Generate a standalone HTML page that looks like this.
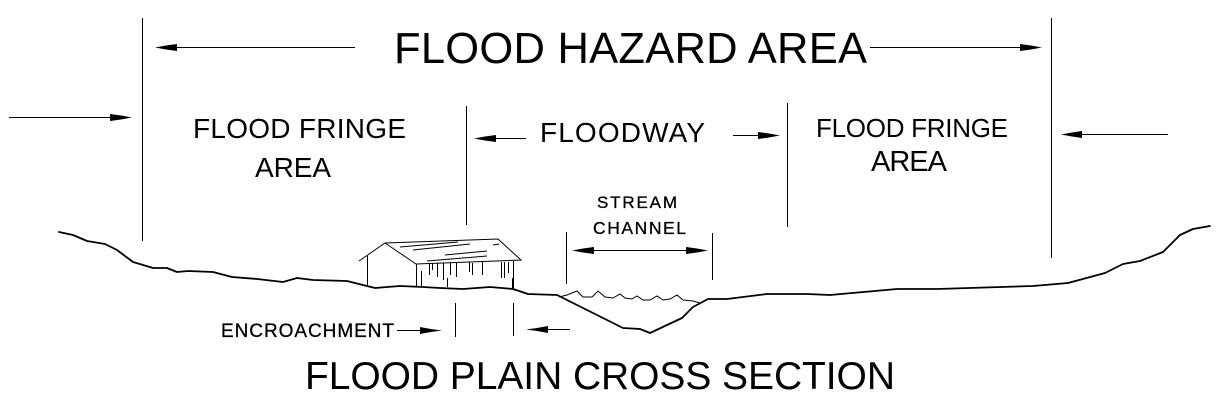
<!DOCTYPE html>
<html>
<head>
<meta charset="utf-8">
<style>
html,body{margin:0;padding:0;background:#fff;width:1220px;height:400px;overflow:hidden}
svg{display:block}
text{font-family:"Liberation Sans",sans-serif;fill:#000;font-weight:400}
.b{stroke:#000;stroke-width:.3}
</style>
</head>
<body>
<svg width="1220" height="400" viewBox="0 0 1220 400" xmlns="http://www.w3.org/2000/svg">
<rect width="1220" height="400" fill="#fff"/>

<!-- Ground -->
<g fill="none" stroke="#000" stroke-width="1.8" stroke-linejoin="round" stroke-linecap="round">
<polyline points="59,232 73,235 87,241 105,244 117,250 133,262 153,268 167,268 177,272 188,271 213,272 232,277 257,279 283,282 297,278 313,280 347,281 375,288 400,286 423,287 440,288 463,289 490,287 513,289 528,294 557,295 597,315 623,328 640,329 650,333 682,318 693,307 708,299 727,299 767,294 807,294 830,295 897,289 937,289 1033,286 1068,283 1105,273 1123,264 1140,261 1163,252 1180,235 1193,229 1210,226"/>
</g>

<!-- Water -->
<polyline fill="none" stroke="#000" stroke-width="1" points="559,297 567,295 577,291 583,297 592,297 598,291 605,297 613,298 620,294 625,298 632,299 637,296 643,300 650,300 657,296 663,300 670,299 677,295 683,300 693,301 700,303"/>

<!-- House -->
<g fill="none" stroke="#000" stroke-width="1">
<polyline points="359,261 385,243 498,239 521,260 416,264 385,243"/>
<line x1="367.5" y1="256" x2="367.5" y2="285"/>
<line x1="416.5" y1="264" x2="416.5" y2="287"/>
<line x1="400" y1="247" x2="458" y2="242"/>
<line x1="413" y1="250" x2="470" y2="244"/>
<line x1="445" y1="255" x2="487" y2="251"/>
<line x1="493" y1="245" x2="499" y2="244"/>
<line x1="427" y1="261" x2="487" y2="256"/>
<line x1="421.5" y1="271" x2="421.5" y2="287"/>
<line x1="429.5" y1="263" x2="429.5" y2="275"/>
<line x1="432.5" y1="263" x2="432.5" y2="270"/>
<line x1="437.5" y1="263" x2="437.5" y2="277"/>
<line x1="443.5" y1="263" x2="443.5" y2="280"/>
<line x1="447.5" y1="278" x2="447.5" y2="287"/>
<line x1="450.5" y1="263" x2="450.5" y2="275"/>
<line x1="456.5" y1="263" x2="456.5" y2="277"/>
<line x1="469.5" y1="262" x2="469.5" y2="272"/>
<line x1="472.5" y1="263" x2="472.5" y2="275"/>
<line x1="482.5" y1="262" x2="482.5" y2="275"/>
<line x1="501.5" y1="262" x2="501.5" y2="278"/>
<line x1="504.5" y1="262" x2="504.5" y2="278"/>
<line x1="508.5" y1="262" x2="508.5" y2="273"/>
<line x1="512.5" y1="278" x2="512.5" y2="289"/>
<line x1="513.5" y1="261" x2="513.5" y2="289"/>
</g>

<!-- Vertical boundaries -->
<g stroke="#000" stroke-width="1">
<line x1="142.5" y1="18" x2="142.5" y2="241"/>
<line x1="1051.5" y1="18" x2="1051.5" y2="258"/>
<line x1="466.5" y1="106" x2="466.5" y2="225"/>
<line x1="787.5" y1="103" x2="787.5" y2="227"/>
<line x1="566.5" y1="232" x2="566.5" y2="284"/>
<line x1="712.5" y1="233" x2="712.5" y2="280"/>
<line x1="455.5" y1="303" x2="455.5" y2="337"/>
<line x1="513.5" y1="303" x2="513.5" y2="336"/>
</g>

<!-- Arrow shafts -->
<g stroke="#000" stroke-width="1">
<line x1="160" y1="47.5" x2="355" y2="47.5"/>
<line x1="870" y1="47.5" x2="1036" y2="47.5"/>
<line x1="9" y1="117.5" x2="126" y2="117.5"/>
<line x1="1068" y1="134.5" x2="1168" y2="134.5"/>
<line x1="480" y1="138.5" x2="526" y2="138.5"/>
<line x1="733" y1="135.5" x2="775" y2="135.5"/>
<line x1="578" y1="250.5" x2="703" y2="250.5"/>
<line x1="397" y1="330.5" x2="436" y2="330.5"/>
<line x1="532" y1="329.5" x2="570" y2="329.5"/>
</g>

<!-- Arrow heads -->
<g fill="#000">
<polygon points="155,47.5 166,45.5 177,44 177,51 166,49.5"/>
<polygon points="1042,47.5 1031,45.5 1020,44 1020,51 1031,49.5"/>
<polygon points="132,117.5 121,115.5 110,114 110,121 121,119.5"/>
<polygon points="1061,134.5 1072,132.5 1082,131 1082,138 1072,136.5"/>
<polygon points="474,138.5 485,136.5 496,135 496,142 485,140.5"/>
<polygon points="780,135.5 769,133.5 758,132 758,139 769,137.5"/>
<polygon points="572,250.5 583,248.5 594,247 594,254 583,252.5"/>
<polygon points="708,250.5 697,248.5 686,247 686,254 697,252.5"/>
<polygon points="442,330.5 431,329 420,327 420,334 431,332"/>
<polygon points="526,329.5 537,328 548,326 548,333 537,331"/>
</g>

<!-- Labels -->
<text x="394" y="63" font-size="43.5" textLength="473" lengthAdjust="spacing">FLOOD HAZARD AREA</text>
<text x="193" y="138" font-size="28" textLength="213" lengthAdjust="spacing">FLOOD FRINGE</text>
<text x="255" y="177" font-size="28" textLength="76" lengthAdjust="spacing">AREA</text>
<text x="540" y="142" font-size="28" textLength="165" lengthAdjust="spacing">FLOODWAY</text>
<text x="816" y="137" font-size="26" textLength="192" lengthAdjust="spacing">FLOOD FRINGE</text>
<text x="871" y="171" font-size="29" textLength="76" lengthAdjust="spacing">AREA</text>
<text class="b" x="597" y="208" font-size="17" textLength="80" lengthAdjust="spacing">STREAM</text>
<text class="b" x="593" y="234" font-size="17.5" textLength="93" lengthAdjust="spacing">CHANNEL</text>
<text class="b" x="221" y="337" font-size="19" textLength="173" lengthAdjust="spacing">ENCROACHMENT</text>
<text x="305" y="389" font-size="39" textLength="590" lengthAdjust="spacing">FLOOD PLAIN CROSS SECTION</text>
</svg>
</body>
</html>
